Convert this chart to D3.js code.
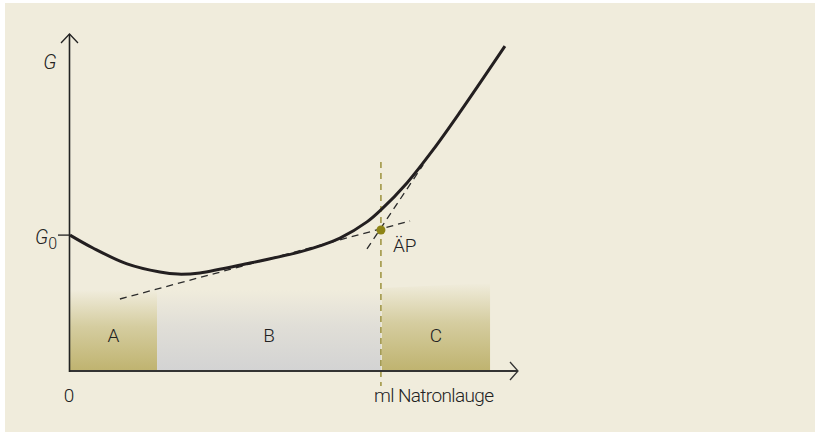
<!DOCTYPE html>
<html><head><meta charset="utf-8">
<script src="https://cdn.jsdelivr.net/npm/d3@7"></script>
<style>
html,body{margin:0;padding:0;background:#fff;}
text{font-family:Roboto,"Noto Sans",sans-serif;font-weight:300;fill:#222;}
</style></head><body>
<svg id="chart" width="819" height="435"></svg>
<script>
// Conductivity curve of a titration (G vs ml NaOH)
const curveX = [0, 0.74, 1.84, 2.90, 3.48, 4.19, 5.81, 7.42, 8.06, 8.71, 9.58, 10.03, 10.87, 11.71, 12.58, 14.03];
const curveY = [4.53, 4.10, 3.57, 3.30, 3.23, 3.27, 3.60, 3.97, 4.17, 4.43, 4.97, 5.37, 6.27, 7.37, 8.63, 10.83];
const tangent1X = [1.61, 10.97];
const tangent1Y = [2.40, 5.00];
const tangent2X = [9.58, 11.39];
const tangent2Y = [4.07, 6.87];
const eqX = 10.03, eqY = 4.70;          // Äquivalenzpunkt
const g0 = 4.53;
const regionNames = ["A", "B", "C"];
const regionStart = [0, 2.81, 10.06];
const regionEnd   = [2.81, 10.03, 13.55];
const regionTopL  = [2.70, 2.70, 2.77];
const regionTopR  = [2.70, 2.70, 2.93];

const svg = d3.select("#chart");
const x = d3.scaleLinear().domain([0, 14]).range([70, 504]);
const y = d3.scaleLinear().domain([0, 11]).range([371, 41]);

// panel background
svg.append("rect").attr("x",5).attr("y",3).attr("width",810).attr("height",429).attr("fill","#f0ecdc");

const defs = svg.append("defs");
function grad(id, bottom){
  const g = defs.append("linearGradient").attr("id",id).attr("x1",0).attr("y1",1).attr("x2",0).attr("y2",0);
  g.append("stop").attr("offset","0%").attr("stop-color",bottom);
  g.append("stop").attr("offset","55%").attr("stop-color",d3.interpolateRgb(bottom,"#f0ecdc")(0.45));
  g.append("stop").attr("offset","100%").attr("stop-color","#f0ecdc");
}
grad("gA","#bfb36f");
grad("gB","#d3d3d3");

const fills = ["url(#gA)","url(#gB)","url(#gA)"];
regionNames.forEach((n,i)=>{
  const pts = [[x(regionStart[i]),y(0)],[x(regionStart[i]),y(regionTopL[i])],[x(regionEnd[i]),y(regionTopR[i])],[x(regionEnd[i]),y(0)]];
  svg.append("path").attr("d","M"+pts.map(p=>p.join(",")).join("L")+"Z").attr("fill",fills[i]);
  svg.append("text").attr("x",x((regionStart[i]+regionEnd[i])/2)).attr("y",y(0)-29)
    .attr("text-anchor","middle").attr("font-size",19).text(n);
});

// vertical dashed line at equivalence point
svg.append("line").attr("x1",x(eqX)).attr("x2",x(eqX)).attr("y1",162).attr("y2",386)
  .attr("stroke","#8f8424").attr("stroke-width",1.3).attr("stroke-dasharray","6,5");

// tangents
[[tangent1X,tangent1Y],[tangent2X,tangent2Y]].forEach(([tx,ty])=>{
  svg.append("line").attr("x1",x(tx[0])).attr("y1",y(ty[0])).attr("x2",x(tx[1])).attr("y2",y(ty[1]))
    .attr("stroke","#2b2b2b").attr("stroke-width",1.3).attr("stroke-dasharray","7,5");
});

// curve
const line = d3.line().x(d=>x(d[0])).y(d=>y(d[1])).curve(d3.curveCatmullRom.alpha(0.5));
svg.append("path").datum(curveX.map((v,i)=>[v,curveY[i]])).attr("d",line)
  .attr("fill","none").attr("stroke","#231f20").attr("stroke-width",3);

// equivalence point
svg.append("circle").attr("cx",x(eqX)).attr("cy",y(eqY)).attr("r",4.5).attr("fill","#8d8416");
svg.append("text").attr("x",x(eqX)+12).attr("y",y(eqY)+22).attr("font-size",19).text("ÄP");

// axes
const ax = "#333";
svg.append("line").attr("x1",69).attr("y1",y(0)).attr("x2",518).attr("y2",y(0)).attr("stroke",ax).attr("stroke-width",1.8);
svg.append("path").attr("d",`M510,${y(0)-9}L518,${y(0)}L510,${y(0)+9}`).attr("fill","none").attr("stroke",ax).attr("stroke-width",1.3);
svg.append("line").attr("x1",69.5).attr("y1",y(0)+1).attr("x2",69.5).attr("y2",34).attr("stroke","#222").attr("stroke-width",1.6);
svg.append("path").attr("d","M61,43L69.5,34L78,43").attr("fill","none").attr("stroke","#222").attr("stroke-width",1.3);

// G0 tick
svg.append("line").attr("x1",58).attr("x2",70).attr("y1",y(g0)).attr("y2",y(g0)).attr("stroke","#222").attr("stroke-width",1.3);
const g0t = svg.append("text").attr("x",35).attr("y",y(g0)+9).attr("font-size",20);
g0t.append("tspan").attr("font-style","italic").text("G");
g0t.append("tspan").attr("font-size",16).attr("dy",5).text("0");

svg.append("text").attr("x",50).attr("y",69).attr("font-size",20).attr("text-anchor","middle").attr("font-style","italic").text("G");
svg.append("text").attr("x",69).attr("y",402).attr("font-size",19).attr("text-anchor","middle").text("0");
svg.append("text").attr("x",374).attr("y",402).attr("font-size",19).attr("textLength",120).text("ml Natronlauge");
</script></body></html>
